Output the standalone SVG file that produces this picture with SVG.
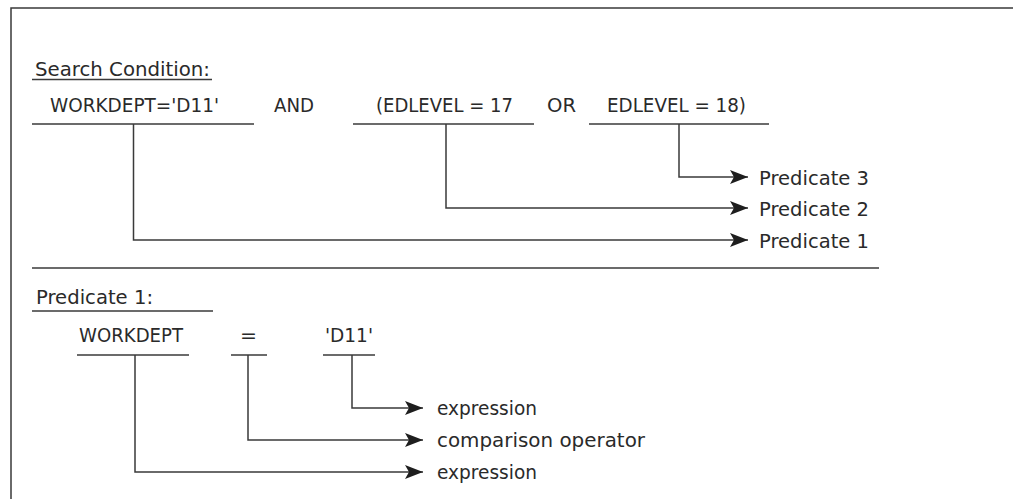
<svg xmlns="http://www.w3.org/2000/svg" width="1013" height="499" viewBox="0 0 1013 499">
<style>
  .t { font-family: "DejaVu Sans", "Liberation Sans", sans-serif; font-size: 20px; fill: #2a2a2a; }
  .ln { stroke: #3a3a3a; stroke-width: 1.5; fill: none; }
  .cn { stroke: #3a3a3a; stroke-width: 1.5; fill: none; marker-end: url(#ah); }
</style>
<defs>
  <marker id="ah" markerUnits="userSpaceOnUse" markerWidth="20" markerHeight="16" refX="18" refY="7" orient="auto">
    <path d="M0,0 L18,7 L0,14 L4,7 Z" fill="#1e1e1e"/>
  </marker>
</defs>
<rect width="1013" height="499" fill="#fff"/>
<g id="frame">
  <path class="ln" d="M11,499 V8 H1013"/>
  <line class="ln" x1="32" y1="268" x2="879" y2="268"/>
</g>
<g id="search-heading">
  <text class="t" x="35" y="76" textLength="175" lengthAdjust="spacingAndGlyphs">Search Condition:</text>
  <line class="ln" x1="32" y1="79.5" x2="212" y2="79.5"/>
</g>
<g id="term-workdept">
  <text class="t" x="50" y="112" textLength="169" lengthAdjust="spacingAndGlyphs">WORKDEPT='D11'</text>
  <line class="ln" x1="32" y1="124" x2="254" y2="124"/>
</g>
<g id="op-and">
  <text class="t" x="274" y="112" textLength="40" lengthAdjust="spacingAndGlyphs">AND</text>
</g>
<g id="term-edlevel17">
  <text class="t" x="376" y="112" textLength="137" lengthAdjust="spacingAndGlyphs">(EDLEVEL = 17</text>
  <line class="ln" x1="353" y1="124" x2="534" y2="124"/>
</g>
<g id="op-or">
  <text class="t" x="547" y="112" textLength="29" lengthAdjust="spacingAndGlyphs">OR</text>
</g>
<g id="term-edlevel18">
  <text class="t" x="607" y="112" textLength="139" lengthAdjust="spacingAndGlyphs">EDLEVEL = 18)</text>
  <line class="ln" x1="589" y1="124" x2="769" y2="124"/>
</g>
<g id="label-predicate3">
  <text class="t" x="759" y="185" textLength="110" lengthAdjust="spacingAndGlyphs">Predicate 3</text>
</g>
<g id="label-predicate2">
  <text class="t" x="759" y="216" textLength="110" lengthAdjust="spacingAndGlyphs">Predicate 2</text>
</g>
<g id="label-predicate1">
  <text class="t" x="759" y="248" textLength="110" lengthAdjust="spacingAndGlyphs">Predicate 1</text>
</g>
<g id="pred1-heading">
  <text class="t" x="36" y="304" textLength="117" lengthAdjust="spacingAndGlyphs">Predicate 1:</text>
  <line class="ln" x1="32" y1="311" x2="213" y2="311"/>
</g>
<g id="term-workdept2">
  <text class="t" x="79" y="342" textLength="104" lengthAdjust="spacingAndGlyphs">WORKDEPT</text>
  <line class="ln" x1="77" y1="355" x2="189" y2="355"/>
</g>
<g id="term-eq">
  <text class="t" x="240" y="342" textLength="17" lengthAdjust="spacingAndGlyphs">=</text>
  <line class="ln" x1="231" y1="355" x2="267" y2="355"/>
</g>
<g id="term-d11">
  <text class="t" x="325" y="342" textLength="48" lengthAdjust="spacingAndGlyphs">'D11'</text>
  <line class="ln" x1="323" y1="355" x2="375" y2="355"/>
</g>
<g id="label-expression1">
  <text class="t" x="437" y="415" textLength="100" lengthAdjust="spacingAndGlyphs">expression</text>
</g>
<g id="label-comparison">
  <text class="t" x="437" y="447" textLength="208" lengthAdjust="spacingAndGlyphs">comparison operator</text>
</g>
<g id="label-expression2">
  <text class="t" x="437" y="479" textLength="100" lengthAdjust="spacingAndGlyphs">expression</text>
</g>
<g id="connectors">
  <path class="cn" d="M679,124 V177 H748"/>
  <path class="cn" d="M446,124 V208 H748"/>
  <path class="cn" d="M133.5,124 V240 H748"/>
  <path class="cn" d="M352,355 V408 H423"/>
  <path class="cn" d="M248,355 V440 H423"/>
  <path class="cn" d="M135,355 V472 H423"/>
</g>
</svg>
